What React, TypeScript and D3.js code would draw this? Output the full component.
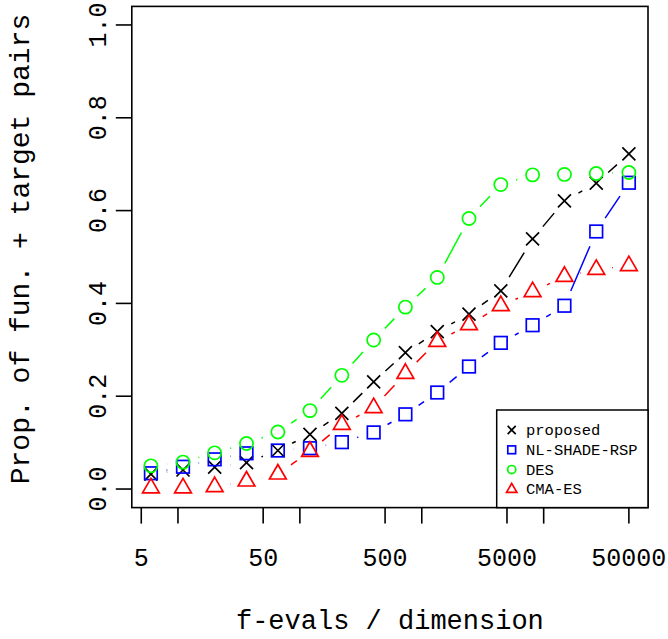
import React from 'react';
import * as d3 from 'd3';

// f-evals / dimension at which each curve was sampled
const evals = [6, 11, 20, 36.5, 66, 121, 221, 403, 734, 1340, 2440, 4450, 8110, 14800, 27000, 50000];

const proposed = [0.032, 0.041, 0.047, 0.057, 0.083, 0.118, 0.163, 0.231, 0.294, 0.339, 0.377, 0.427, 0.539, 0.621, 0.659, 0.722];
const nlShadeRsp = [0.034, 0.048, 0.064, 0.077, 0.083, 0.088, 0.101, 0.122, 0.161, 0.208, 0.264, 0.315, 0.353, 0.395, 0.555, 0.66];
const des = [0.05, 0.058, 0.078, 0.098, 0.123, 0.169, 0.245, 0.321, 0.392, 0.456, 0.583, 0.656, 0.677, 0.678, 0.68, 0.682];
const cmaEs = [0.002, 0.002, 0.005, 0.017, 0.032, 0.081, 0.139, 0.175, 0.249, 0.318, 0.354, 0.395, 0.425, 0.458, 0.473, 0.481];

const seriesNames = ['proposed', 'NL-SHADE-RSP', 'DES', 'CMA-ES'];
const seriesColors = ['#000000', '#0000ff', '#00ff00', '#ff0000'];
const seriesShapes = ['cross', 'square', 'circle', 'triangle'];

const xTicks = [5, 10, 50, 100, 500, 1000, 5000, 10000, 50000];
const xTickLabels = ['5', '', '50', '', '500', '', '5000', '', '50000'];
const yTicks = [0, 0.2, 0.4, 0.6, 0.8, 1.0];
const yTickLabels = ['0.0', '0.2', '0.4', '0.6', '0.8', '1.0'];

const W = 668, H = 639;
const FONT = '"Liberation Mono", "Courier New", monospace';
const plot = {left: 131.8, right: 648, top: 6.4, bottom: 507.6};

// R style 4% axis extension on a log axis
const lo = Math.log10(d3.min(evals) as number), hi = Math.log10(d3.max(evals) as number);
const ext = (hi - lo) * 0.04;
const x = d3.scaleLog().domain([10 ** (lo - ext), 10 ** (hi + ext)]).range([plot.left, plot.right]);
const y = d3.scaleLinear().domain([-0.04, 1.04]).range([plot.bottom, plot.top]);

function Marker({shape, cx, cy, color, k = 1}: {shape: string; cx: number; cy: number; color: string; k?: number}) {
  const sw = 1.7;
  if (shape === 'cross') {
    const s = 6.5 * k;
    return <path d={`M${cx - s},${cy - s}L${cx + s},${cy + s}M${cx - s},${cy + s}L${cx + s},${cy - s}`} stroke={color} strokeWidth={sw} fill="none" />;
  }
  if (shape === 'square') {
    const s = 6.3 * k;
    return <rect x={cx - s} y={cy - s} width={2 * s} height={2 * s} stroke={color} strokeWidth={sw} fill="none" />;
  }
  if (shape === 'circle') {
    return <circle cx={cx} cy={cy} r={6.6 * k} stroke={color} strokeWidth={sw} fill="none" />;
  }
  const h = 14.5 * k;
  const hw = h / Math.sqrt(3);
  return <path d={`M${cx},${cy - (2 * h) / 3}L${cx + hw},${cy + h / 3}L${cx - hw},${cy + h / 3}Z`} stroke={color} strokeWidth={sw} fill="none" strokeLinejoin="miter" />;
}

// type="b": segments between points, cut short around each point
function gappedSegments(vals: number[], gap: number) {
  const out: string[] = [];
  for (let i = 0; i < vals.length - 1; i++) {
    const x0 = x(evals[i]), y0 = y(vals[i]);
    const x1 = x(evals[i + 1]), y1 = y(vals[i + 1]);
    const len = Math.hypot(x1 - x0, y1 - y0);
    if (len <= 2 * gap) continue;
    const ux = (x1 - x0) / len, uy = (y1 - y0) / len;
    out.push(`M${x0 + ux * gap},${y0 + uy * gap}L${x1 - ux * gap},${y1 - uy * gap}`);
  }
  return out.join('');
}

export default function App() {
  const allSeries = [proposed, nlShadeRsp, des, cmaEs];
  const legend = {left: 496.7, top: 410, right: plot.right, bottom: plot.bottom};
  const rowY = (i: number) => 430 + i * 19.8;

  return (
    <svg width={W} height={H} style={{position: 'absolute', left: 0, top: 0, background: '#fff'}} fontFamily={FONT}>
      <rect x={0} y={0} width={W} height={H} fill="#fff" />

      {allSeries.map((vals, si) => (
        <g key={seriesNames[si]}>
          <path d={gappedSegments(vals, 16)} stroke={seriesColors[si]} strokeWidth={1.5} fill="none" />
          {vals.map((v, i) => (
            <Marker key={i} shape={seriesShapes[si]} cx={x(evals[i])} cy={y(v)} color={seriesColors[si]} />
          ))}
        </g>
      ))}

      {/* plot box */}
      <rect x={plot.left} y={plot.top} width={plot.right - plot.left} height={plot.bottom - plot.top} fill="none" stroke="#000" strokeWidth={1.6} />

      {/* x axis */}
      {xTicks.map((t, i) => (
        <g key={t}>
          <line x1={x(t)} x2={x(t)} y1={plot.bottom} y2={plot.bottom + 16} stroke="#000" strokeWidth={1.6} />
          {xTickLabels[i] && (
            <text x={x(t)} y={565.7} fontSize={25} textAnchor="middle" fill="#000">{xTickLabels[i]}</text>
          )}
        </g>
      ))}
      <text x={(plot.left + plot.right) / 2} y={629} fontSize={27} textAnchor="middle" fill="#000">f-evals / dimension</text>

      {/* y axis */}
      {yTicks.map((t, i) => (
        <g key={t}>
          <line x1={plot.left - 16} x2={plot.left} y1={y(t)} y2={y(t)} stroke="#000" strokeWidth={1.6} />
          <text transform={`translate(106,${y(t)}) rotate(-90)`} fontSize={25} textAnchor="middle" fill="#000">{yTickLabels[i]}</text>
        </g>
      ))}
      <text transform="translate(29,249) rotate(-90)" fontSize={28} textAnchor="middle" fill="#000">Prop. of fun. + target pairs</text>

      {/* legend */}
      <rect x={legend.left} y={legend.top} width={legend.right - legend.left} height={legend.bottom - legend.top} fill="#fff" stroke="#000" strokeWidth={1.5} />
      {seriesNames.map((name, i) => (
        <g key={name}>
          <Marker shape={seriesShapes[i]} cx={511.7} cy={rowY(i)} color={seriesColors[i]} k={0.62} />
          <text x={526} y={rowY(i) + 5} fontSize={15.5} fill="#000">{name}</text>
        </g>
      ))}
    </svg>
  );
}
